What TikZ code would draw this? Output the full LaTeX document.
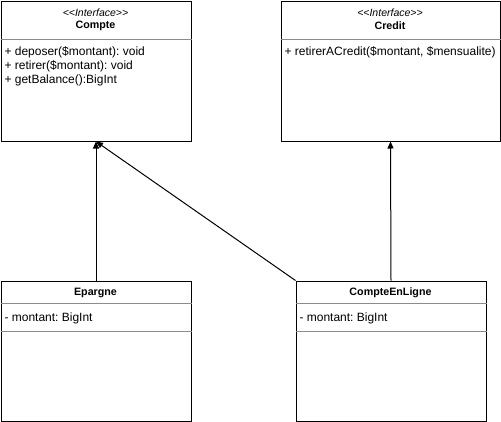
\documentclass[tikz,border=0pt]{standalone}
\usepackage{fontspec}
\setmainfont{Liberation Sans}
\usetikzlibrary{arrows.meta}
\frenchspacing

\newcommand{\interf}{<\kern0pt<Interface>\kern0pt>}

\tikzset{
  stereo/.style={font=\fontsize{10.5}{12}\selectfont\itshape},
  title/.style={font=\fontsize{10.7}{12}\selectfont\bfseries},
  member/.style={anchor=west,font=\fontsize{12}{14}\selectfont},
  divider/.style={draw=black!45,line width=1pt}
}

\begin{document}
\begin{tikzpicture}[x=1pt,y=-1pt]
\useasboundingbox (0,0) rectangle (501,421);

\begin{scope}[every node/.style={draw,line width=1pt,rectangle,inner sep=0pt,anchor=north west}]
  \node[minimum width=190pt,minimum height=140pt] (compte) at (0.5,0.5) {};
  \node[minimum width=219pt,minimum height=140pt] (credit) at (280.5,0.5) {};
  \node[minimum width=190pt,minimum height=140pt] (epargne) at (0.5,280.5) {};
  \node[minimum width=190pt,minimum height=140pt] (ligne) at (295.5,280.5) {};
\end{scope}

% separateurs
\draw[divider] ([yshift=-39pt]compte.north west) -- ([yshift=-39pt]compte.north east);
\draw[divider] ([yshift=-39pt]credit.north west) -- ([yshift=-39pt]credit.north east);
\draw[divider] ([yshift=-23pt]epargne.north west) -- ([yshift=-23pt]epargne.north east);
\draw[divider] ([yshift=-51pt]epargne.north west) -- ([yshift=-51pt]epargne.north east);
\draw[divider] ([yshift=-23pt]ligne.north west) -- ([yshift=-23pt]ligne.north east);
\draw[divider] ([yshift=-51pt]ligne.north west) -- ([yshift=-51pt]ligne.north east);

% Compte
\node[stereo] (compte-st) at (95.5,12.5) {\interf};
\node[title] (compte-nom) at (95.5,25.5) {Compte};
\node[member] (compte-m1) at (1,52.5) {+ deposer(\$montant): void};
\node[member] (compte-m2) at (1,66.5) {+ retirer(\$montant): void};
\node[member] (compte-m3) at (1,80.5) {+ getBalance():BigInt};

% Credit
\node[stereo] (credit-st) at (390,12.5) {\interf};
\node[title] (credit-nom) at (390,25.5) {Credit};
\node[member] (credit-m1) at (281,52.5) {+ retirerACredit(\$montant, \$mensualite)};

% Epargne
\node[title] (epargne-nom) at (95.5,292.5) {Epargne};
\node[member] (epargne-a1) at (1,318.5) {- montant: BigInt};

% CompteEnLigne
\node[title] (ligne-nom) at (390.5,292.5) {CompteEnLigne};
\node[member] (ligne-a1) at (296,318.5) {- montant: BigInt};

\begin{scope}[>={Triangle[length=7pt,width=6pt]}, line width=1pt]
  \path [->] (epargne.north) edge (compte.south);
  \path [->] (ligne.north west) edge (compte.south);
  \path [->] (ligne.north) edge (credit.south);
\end{scope}
\end{tikzpicture}
\end{document}
